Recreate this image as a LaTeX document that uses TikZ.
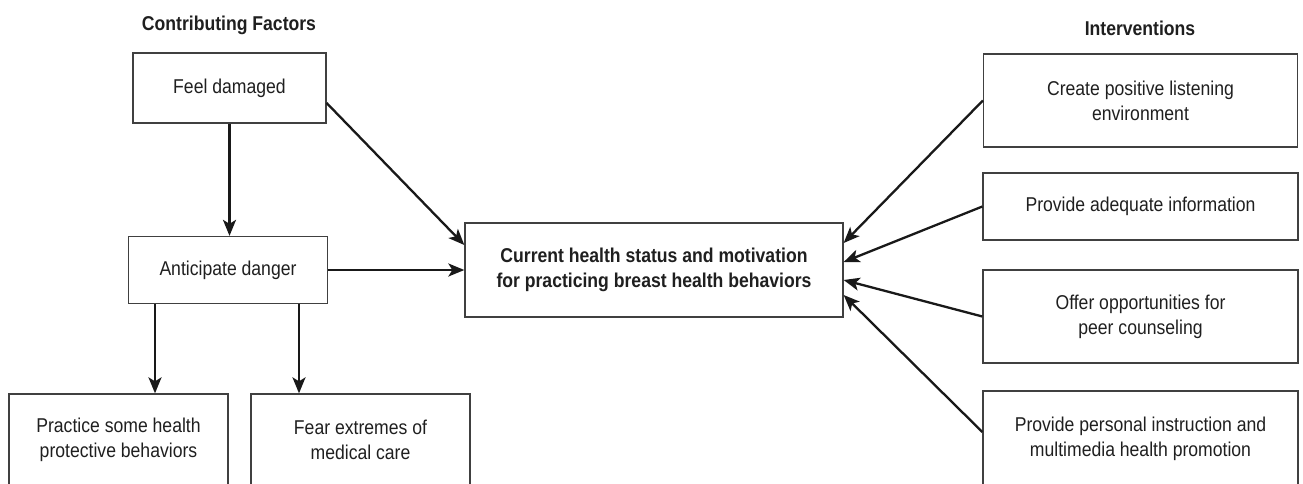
\documentclass[tikz,border=0pt]{standalone}
\usepackage{fontspec}
\setmainfont[FakeStretch=0.88]{Liberation Sans}
\usetikzlibrary{arrows.meta, positioning}

\begin{document}
\begin{tikzpicture}[
    x=1pt, y=-1pt,
    every node/.style={font=\fontsize{20}{25}\selectfont, text=black!88},
    factor/.style={draw=black!75, line width=1.3pt, align=center, inner sep=0pt},
    heading/.style={font=\fontsize{20}{25}\selectfont\bfseries},
    link/.style={line width=2.3pt, draw=black!90, -{Stealth[length=16pt, width=13pt, inset=4pt]}}
]
   \clip (0,0) rectangle (1303,483);

   % Headings
   \node[heading] (hfac) at (229,25) {Contributing Factors};
   \node[heading] (hint) at (1140,28) {Interventions};

   % Contributing factors
   \node[factor, minimum width=193pt, minimum height=70pt] (feel) at (229.5,88) {Feel damaged};
   \node[factor, minimum width=199pt, minimum height=67pt] (antic) at (228,270) {Anticipate danger};
   \node[factor, minimum width=219pt, minimum height=92pt] (practice) at (118.5,440) {Practice some health\\protective behaviors};
   \node[factor, minimum width=219pt, minimum height=92pt] (fear) at (360.5,440) {Fear extremes of\\medical care};

   % Outcome
   \node[factor, minimum width=378pt, minimum height=94pt, font=\fontsize{20}{25}\selectfont\bfseries] (status) at (654,270) {Current health status and motivation\\for practicing breast health behaviors};

   % Interventions
   \node[factor, minimum width=314pt, minimum height=93pt] (listen) at (1140.5,100.5) {Create positive listening\\environment};
   \node[factor, minimum width=315pt, minimum height=67pt] (inform) at (1140.5,206.5) {Provide adequate information};
   \node[factor, minimum width=315pt, minimum height=93pt] (peer) at (1140.5,316.5) {Offer opportunities for\\peer counseling};
   \node[factor, minimum width=315pt, minimum height=96pt] (instr) at (1140.5,439) {Provide personal instruction and\\multimedia health promotion};

   % Arrows
   \draw[link] (feel.south) -- (feel.south |- antic.north);
   \draw[link] ([yshift=-15pt]feel.east) -- ([yshift=25pt]status.west);
   \draw[link] (antic.east) -- (status.west);
   \draw[link] ([xshift=-73pt]antic.south) -- ([xshift=-73pt]antic.south |- practice.north);
   \draw[link] ([xshift=71pt]antic.south) -- ([xshift=71pt]antic.south |- fear.north);

   \draw[link] (listen.west) -- ([yshift=27pt]status.east);
   \draw[link] (inform.west) -- ([yshift=8pt]status.east);
   \draw[link] (peer.west) -- ([yshift=-10pt]status.east);
   \draw[link] ([yshift=7pt]instr.west) -- ([yshift=-25pt]status.east);
\end{tikzpicture}
\end{document}
